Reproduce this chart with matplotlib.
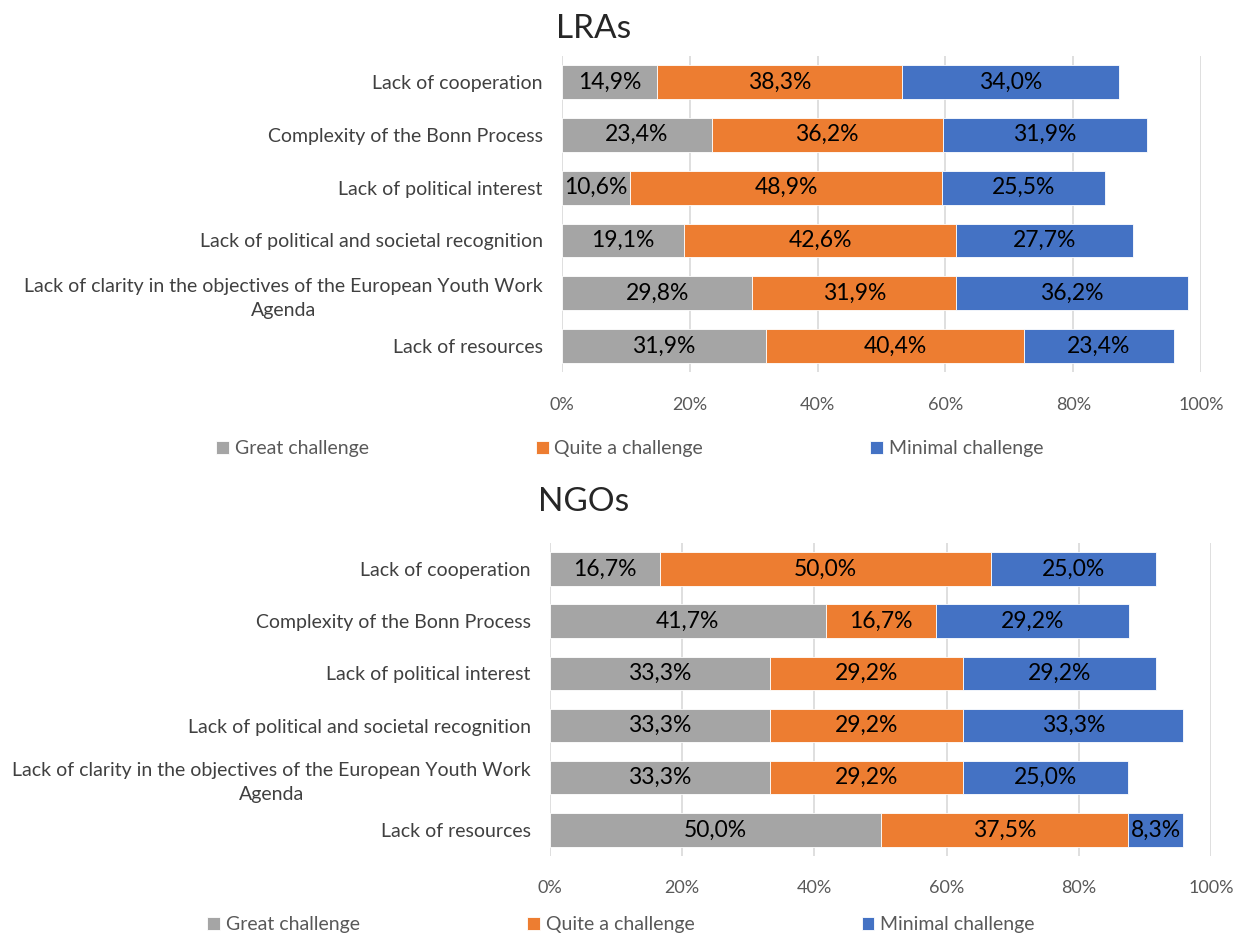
import matplotlib.pyplot as plt
import numpy as np

plt.rcParams['font.family'] = ['Lato', 'DejaVu Sans']

# categories bottom -> top (as drawn)
cats = ['Lack of resources',
        'Lack of clarity in the objectives of the European Youth Work\nAgenda',
        'Lack of political and societal recognition',
        'Lack of political interest',
        'Complexity of the Bonn Process',
        'Lack of cooperation']
series = ['Great challenge', 'Quite a challenge', 'Minimal challenge']
colors = ['#A5A5A5', '#ED7D31', '#4472C4']

lra_great = [31.9, 29.8, 19.1, 10.6, 23.4, 14.9]
lra_quite = [40.4, 31.9, 42.6, 48.9, 36.2, 38.3]
lra_minimal = [23.4, 36.2, 27.7, 25.5, 31.9, 34.0]

ngo_great = [50.0, 33.3, 33.3, 33.3, 41.7, 16.7]
ngo_quite = [37.5, 29.2, 29.2, 29.2, 16.7, 50.0]
ngo_minimal = [8.3, 25.0, 33.3, 29.2, 29.2, 25.0]

ticks = [0, 20, 40, 60, 80, 100]
tick_labels = ['0%', '20%', '40%', '60%', '80%', '100%']

fig = plt.figure(figsize=(12.47, 9.35), dpi=100)
ax1 = fig.add_axes([0.4507, 0.6017, 0.5124, 0.3388])
ax2 = fig.add_axes([0.4411, 0.0844, 0.5301, 0.3350])


def draw(ax, data, title, title_pad, xpad, leg_xy):
    y = np.arange(len(cats))
    left = np.zeros(len(cats))
    handles = []
    for vals, name, col in zip(data, series, colors):
        vals = np.array(vals)
        b = ax.barh(y, vals, left=left, height=0.64, color=col, label=name,
                    edgecolor='white', linewidth=0.6, zorder=3)
        handles.append(b)
        for yi, l, v in zip(y, left, vals):
            ax.text(l + v / 2, yi, f'{v:.1f}%'.replace('.', ','),
                    ha='center', va='center', fontsize=16.5, color='black', zorder=4)
        left = left + vals
    ax.set_xlim(0, 100)
    ax.set_ylim(-0.5, 5.5)
    ax.set_yticks(y)
    ax.set_yticklabels(cats, fontsize=14, color='#404040', multialignment='center',
                       linespacing=1.5)
    ax.set_xticks(ticks)
    ax.set_xticklabels(tick_labels, fontsize=13, color='#595959')
    ax.tick_params(axis='y', length=0, pad=14)
    ax.tick_params(axis='x', length=0, pad=xpad)
    ax.grid(axis='x', color='#D9D9D9', linewidth=1.2, zorder=0)
    for s in ax.spines.values():
        s.set_visible(False)
    ax.set_title(title, fontsize=24, color='#262626', pad=title_pad, x=0.05)
    fig.legend(handles, series, loc='center', bbox_to_anchor=leg_xy,
               ncol=3, frameon=False, fontsize=14, handlelength=0.65,
               handleheight=0.65, handletextpad=0.3, columnspacing=8.6,
               labelcolor='#595959')


draw(ax1, [lra_great, lra_quite, lra_minimal], 'LRAs', 13, 18, (0.505, 0.52))
draw(ax2, [ngo_great, ngo_quite, ngo_minimal], 'NGOs', 23, 17, (0.498, 0.011))

fig.savefig('out.png', dpi=100)
